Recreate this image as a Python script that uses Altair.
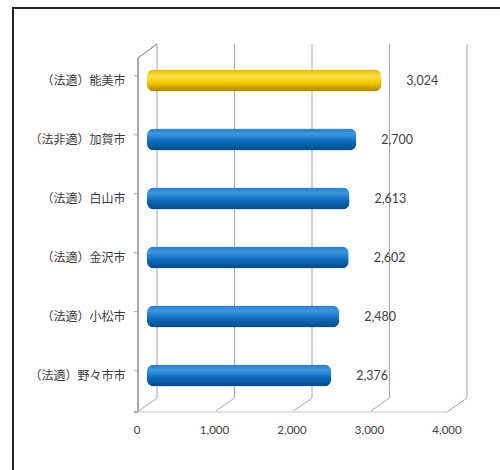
import altair as alt
import pandas as pd

cities = ["（法適）能美市", "（法非適）加賀市", "（法適）白山市", "（法適）金沢市", "（法適）小松市", "（法適）野々市市"]
values = [3024, 2700, 2613, 2602, 2480, 2376]
highlight = [True, False, False, False, False, False]
ticks = [0, 1000, 2000, 3000, 4000]

W, H = 310, 354
DX, DY = 10, 7

df = pd.DataFrame({"city": cities, "value": values, "hl": highlight})
tdf = pd.DataFrame({"tick": ticks})

xscale = alt.Scale(domain=[0, 4000], nice=False)
yscale = alt.Scale(domain=cities, paddingInner=0.6, paddingOuter=0.3)
yaxis = alt.Axis(domain=False, ticks=False, labelPadding=22, labelFontSize=12,
                 labelFont="Noto Sans CJK JP", labelColor="#3a3a3a", grid=False, title=None)

grid_col = "#a6a6a6"

gridlines = alt.Chart(tdf).mark_rule(color=grid_col, strokeWidth=1, xOffset=DX).encode(
    x=alt.X("tick:Q", scale=xscale, axis=None),
    y=alt.value(-DY), y2=alt.value(H - DY),
)
diagonals = alt.Chart(tdf).mark_rule(color=grid_col, strokeWidth=1, xOffset=DX, x2Offset=-DX).encode(
    x=alt.X("tick:Q", scale=xscale, axis=None), x2="tick:Q",
    y=alt.value(H - DY), y2=alt.value(H + DY),
)
tick_labels = alt.Chart(tdf).mark_text(
    align="center", baseline="middle", dx=-DX, fontSize=11.5, font="Lato", color="#404040"
).encode(
    x=alt.X("tick:Q", scale=xscale, axis=None),
    y=alt.value(H + 26),
    text=alt.Text("tick:Q", format=","),
)
floor_front = alt.Chart(tdf).mark_rule(color="#e2e2e2", strokeWidth=1).encode(
    x=alt.value(-DX), x2=alt.value(W - DX), y=alt.value(H + DY),
)
left_front = alt.Chart(tdf).mark_rule(color=grid_col, strokeWidth=1).encode(
    x=alt.value(-DX + 1), y=alt.value(DY), y2=alt.value(H + DY),
)
top_diag = alt.Chart(tdf).mark_rule(color=grid_col, strokeWidth=1).encode(
    x=alt.value(-DX + 1), x2=alt.value(DX), y=alt.value(DY), y2=alt.value(-DY),
)
left_ticks = alt.Chart(df).mark_rule(color=grid_col, strokeWidth=1, yOffset=DY).encode(
    y=alt.Y("city:N", scale=yscale, sort=cities, bandPosition=0, axis=yaxis),
    x=alt.value(-DX - 3), x2=alt.value(-DX + 1),
)
bottom_tick = alt.Chart(tdf).mark_rule(color=grid_col, strokeWidth=1).encode(
    y=alt.value(H + DY), x=alt.value(-DX - 3), x2=alt.value(-DX + 1),
)

blue_grad = alt.LinearGradient(
    gradient="linear", x1=0, x2=0, y1=0, y2=1,
    stops=[
        alt.GradientStop(color="#2a7fcc", offset=0),
        alt.GradientStop(color="#3c96e0", offset=0.25),
        alt.GradientStop(color="#0c6bbd", offset=0.6),
        alt.GradientStop(color="#064985", offset=1),
    ],
)
gold_grad = alt.LinearGradient(
    gradient="linear", x1=0, x2=0, y1=0, y2=1,
    stops=[
        alt.GradientStop(color="#e2b400", offset=0),
        alt.GradientStop(color="#ffe24a", offset=0.3),
        alt.GradientStop(color="#f5c800", offset=0.6),
        alt.GradientStop(color="#a88600", offset=1),
    ],
)

yenc = alt.Y("city:N", scale=yscale, sort=cities, axis=yaxis)
xenc = alt.X("value:Q", scale=xscale, axis=None)

bars_blue = alt.Chart(df).transform_filter("!datum.hl").mark_bar(
    color=blue_grad, size=22, cornerRadius=7
).encode(x=xenc, y=yenc)
bars_gold = alt.Chart(df).transform_filter("datum.hl").mark_bar(
    color=gold_grad, size=22, cornerRadius=7
).encode(x=xenc, y=yenc)

labels = alt.Chart(df).mark_text(
    align="left", baseline="middle", dx=25, fontSize=12.5, font="Lato", color="#404040"
).encode(
    x=xenc,
    y=yenc,
    text=alt.Text("value:Q", format=","),
)

frame_left = alt.Chart(tdf).mark_rule(color="#222222", strokeWidth=2).encode(
    x=alt.value(-134), y=alt.value(-43), y2=alt.value(H + 80),
)
frame_top = alt.Chart(tdf).mark_rule(color="#222222", strokeWidth=2).encode(
    y=alt.value(-43), x=alt.value(-135), x2=alt.value(W + 60),
)

chart = alt.layer(
    gridlines, diagonals, tick_labels, floor_front, left_front, top_diag, left_ticks, bottom_tick,
    bars_blue, bars_gold, labels, frame_left, frame_top,
).properties(
    width=W, height=H,
    autosize=alt.AutoSizeParams(type="none"),
    padding={"left": 147, "top": 51, "right": 43, "bottom": 65},
    background="white",
).configure_view(strokeOpacity=0)

chart.save("out.html", embed_options={"renderer": "svg", "actions": False})
